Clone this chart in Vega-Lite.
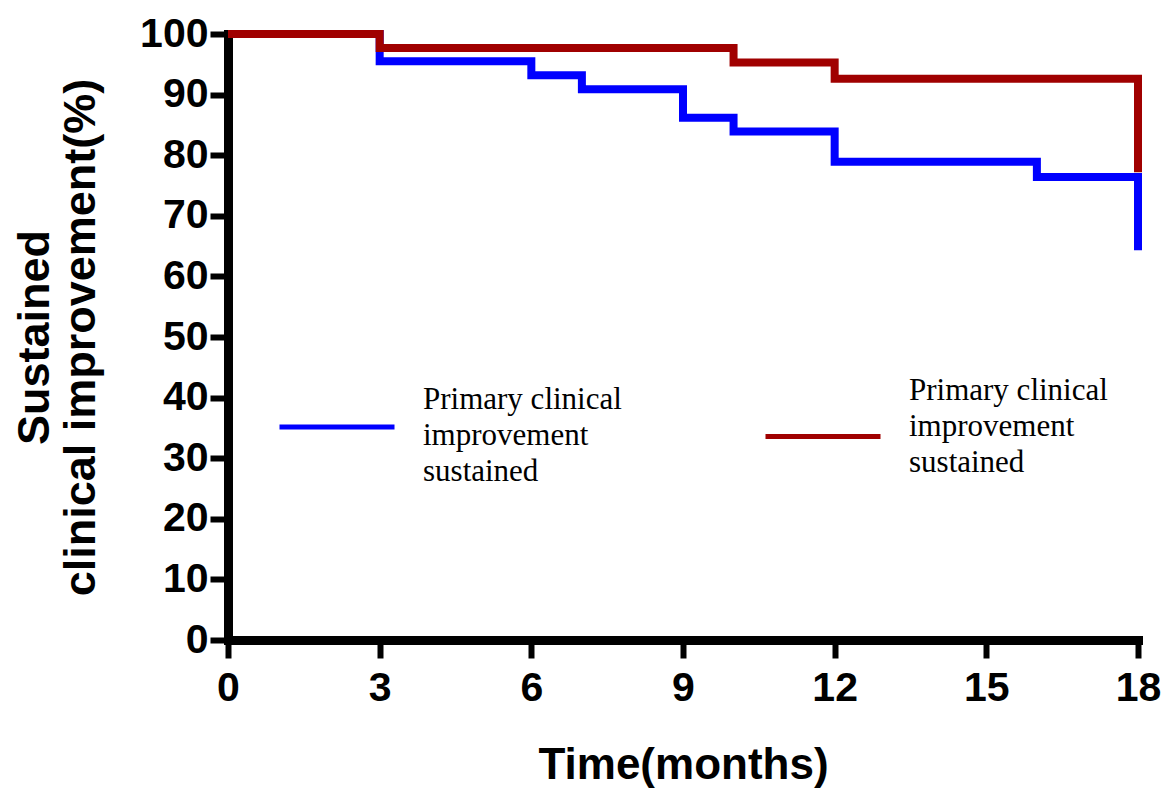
{
  "$schema": "https://vega.github.io/schema/vega-lite/v6.json",
  "autosize": "none",
  "width": 910,
  "height": 606,
  "padding": {"left": 228, "top": 34, "right": 27, "bottom": 149},
  "background": "white",
  "config": {"view": {"stroke": null}},
  "data": {"values": [
    {"group": "A", "i": 0, "t": 0, "s": 100},
    {"group": "A", "i": 1, "t": 3, "s": 95.5},
    {"group": "A", "i": 2, "t": 6, "s": 93.2},
    {"group": "A", "i": 3, "t": 7, "s": 90.9},
    {"group": "A", "i": 4, "t": 9, "s": 86.2},
    {"group": "A", "i": 5, "t": 10, "s": 83.9},
    {"group": "A", "i": 6, "t": 12, "s": 78.9},
    {"group": "A", "i": 7, "t": 16, "s": 76.4},
    {"group": "A", "i": 8, "t": 18, "s": 76.4},
    {"group": "A", "i": 9, "t": 18, "s": 64.3},
    {"group": "B", "i": 0, "t": 0, "s": 100},
    {"group": "B", "i": 1, "t": 3, "s": 97.7},
    {"group": "B", "i": 2, "t": 10, "s": 95.3},
    {"group": "B", "i": 3, "t": 12, "s": 92.6},
    {"group": "B", "i": 4, "t": 18, "s": 92.6},
    {"group": "B", "i": 5, "t": 18, "s": 77.2}
  ]},
  "mark": {"type": "line", "interpolate": "step-after", "strokeWidth": 8, "strokeJoin": "miter", "strokeCap": "butt", "clip": false},
  "encoding": {
    "x": {
      "field": "t", "type": "quantitative",
      "scale": {"domain": [0, 18], "nice": false},
      "axis": {
        "values": [0, 3, 6, 9, 12, 15, 18],
        "title": "Time(months)",
        "grid": false,
        "domainColor": "black", "domainWidth": 9, "domainCap": "square",
        "tickColor": "black", "tickWidth": 6, "tickSize": 18,
        "labelFont": "Liberation Sans", "labelFontWeight": "bold", "labelFontSize": 41, "labelColor": "black",
        "labelPadding": 10, "labelFlush": false,
        "titleFont": "Liberation Sans", "titleFontWeight": "bold", "titleFontSize": 44, "titleColor": "black",
        "titlePadding": 35
      }
    },
    "y": {
      "field": "s", "type": "quantitative",
      "scale": {"domain": [0, 100], "nice": false},
      "axis": {
        "values": [0, 10, 20, 30, 40, 50, 60, 70, 80, 90, 100],
        "title": ["Sustained", "clinical improvement(%)"],
        "grid": false,
        "domainColor": "black", "domainWidth": 9, "domainCap": "square",
        "tickColor": "black", "tickWidth": 6, "tickSize": 18,
        "labelFont": "Liberation Sans", "labelFontWeight": "bold", "labelFontSize": 41, "labelColor": "black",
        "labelPadding": 2, "labelFlush": false,
        "titleFont": "Liberation Sans", "titleFontWeight": "bold", "titleFontSize": 45, "titleColor": "black",
        "titlePadding": 36, "titleLineHeight": 46
      }
    },
    "color": {
      "field": "group", "type": "nominal",
      "scale": {"domain": ["A", "B"], "range": ["#0000FF", "#A00000"]},
      "legend": {
        "orient": "none",
        "legendX": 49,
        "legendY": 333,
        "direction": "horizontal",
        "columns": 2,
        "title": null,
        "symbolType": "stroke",
        "symbolSize": 13225,
        "symbolStrokeWidth": 5,
        "labelExpr": "['Primary clinical', 'improvement', 'sustained']",
        "labelFont": "Liberation Serif",
        "labelFontSize": 31,
        "labelColor": "black",
        "labelLimit": 400,
        "labelOffset": 26,
        "columnPadding": 133,
        "labelBaseline": "middle",
        "encode": {
          "symbols": {"update": {"stroke": {"signal": "datum.value === 'A' ? '#0070C0' : '#C00000'"}}},
          "labels": {"update": {
            "lineHeight": {"value": 36},
            "dy": {"signal": "datum.value === 'A' ? -27 : -46"}
          }}
        }
      }
    },
    "order": {"field": "i", "type": "quantitative"}
  }
}
